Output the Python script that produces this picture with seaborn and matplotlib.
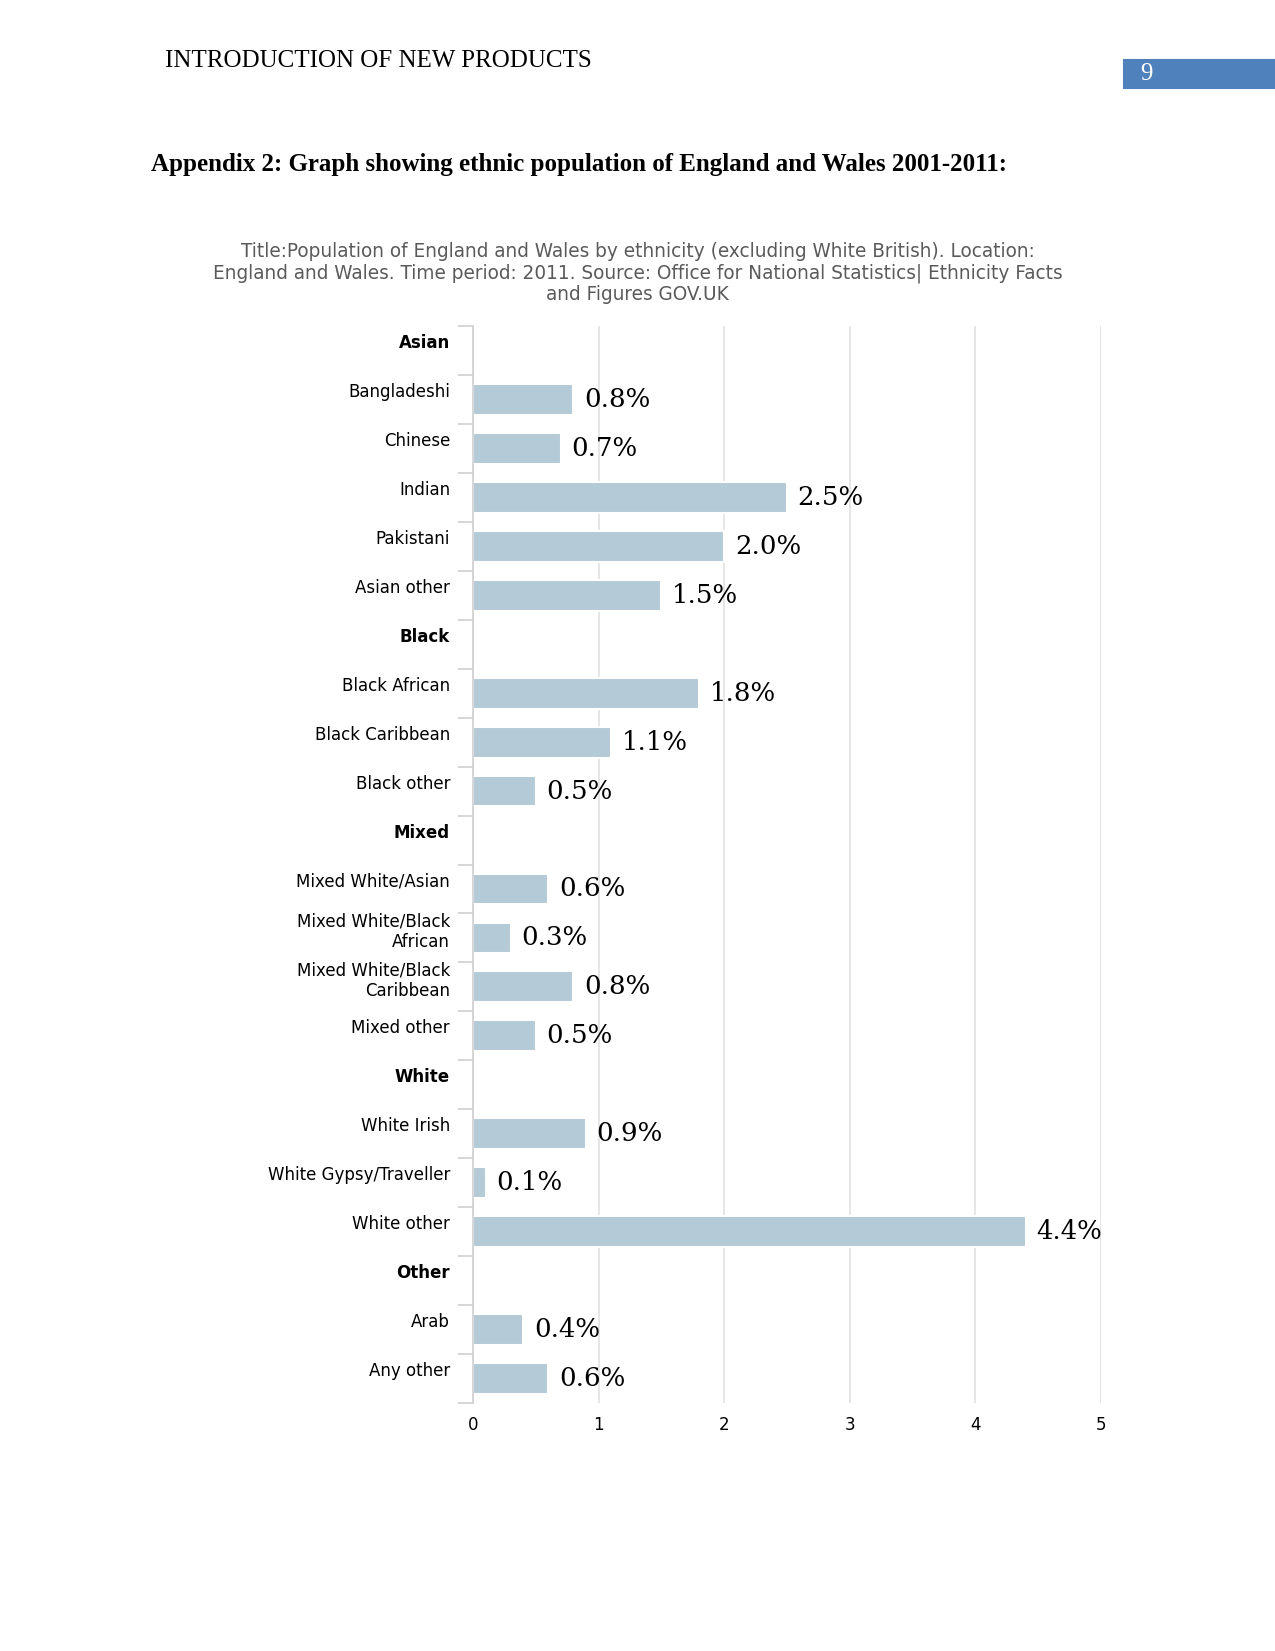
import numpy as np
import pandas as pd
import matplotlib
matplotlib.use("Agg")
import matplotlib.pyplot as plt
import matplotlib.transforms as mtransforms
from matplotlib.patches import Rectangle
import seaborn as sns

# data (percent of population, 2011)
categories = [
    "Asian", "Bangladeshi", "Chinese", "Indian", "Pakistani", "Asian other",
    "Black", "Black African", "Black Caribbean", "Black other",
    "Mixed", "Mixed White/Asian", "Mixed White/Black\nAfrican",
    "Mixed White/Black\nCaribbean", "Mixed other",
    "White", "White Irish", "White Gypsy/Traveller", "White other",
    "Other", "Arab", "Any other",
]
values = [
    np.nan, 0.8, 0.7, 2.5, 2.0, 1.5,
    np.nan, 1.8, 1.1, 0.5,
    np.nan, 0.6, 0.3, 0.8, 0.5,
    np.nan, 0.9, 0.1, 4.4,
    np.nan, 0.4, 0.6,
]
group_headers = ["Asian", "Black", "Mixed", "White", "Other"]
x_ticks = [0, 1, 2, 3, 4, 5]

chart_title = ("Title:Population of England and Wales by ethnicity (excluding White British). Location:\n"
               "England and Wales. Time period: 2011. Source: Office for National Statistics| Ethnicity Facts\n"
               "and Figures GOV.UK")

sns.set_style("white")
plt.rcParams["font.family"] = ["DejaVu Sans"]
plt.rcParams.update({
    "text.color": "black",
    "xtick.color": "black",
    "ytick.color": "black",
})

W, H = 1275, 1651
fig = plt.figure(figsize=(W / 150, H / 150), dpi=150)

# page header
fig.text(165 / W, 1 - 61 / H, "INTRODUCTION OF NEW PRODUCTS", family="Liberation Serif",
         fontsize=12, va="center", ha="left")
fig.patches.append(Rectangle((1124 / W, 1 - 88 / H), (W - 1124) / W, 28 / H,
                             transform=fig.transFigure, color="#4F81BD", zorder=0))
fig.text(1146 / W, 1 - 74 / H, "9", family="Liberation Serif", fontsize=12,
         va="center", ha="center", color="white")
fig.text(151 / W, 1 - 165 / H,
         "Appendix 2: Graph showing ethnic population of England and Wales 2001-2011:",
         family="Liberation Serif", fontweight="bold", fontsize=12, va="center", ha="left")

fig.text(0.5, 1 - 273 / H, chart_title, ha="center", va="center", fontsize=8.9,
         color="#5a5a5a", linespacing=1.15)

left, right, top, bottom = 473, 1101, 326, 1403
ax = fig.add_axes([left / W, 1 - bottom / H, (right - left) / W, (bottom - top) / H])

df = pd.DataFrame({"group": categories, "value": values})
sns.barplot(data=df, x="value", y="group", order=categories, color="#b4cad7",
            saturation=1, width=0.63, errorbar=None, ax=ax)

for i, v in enumerate(values):
    if not np.isnan(v):
        ax.text(v + 0.085, i, f"{v:.1f}%", va="center", ha="left",
                family="DejaVu Serif", fontsize=12.5, color="black")

ax.set_xlim(0, 5)
ax.set_ylim(len(categories) - 0.5, -0.5)
ax.set_xticks(x_ticks)
ax.set_xticklabels([str(t) for t in x_ticks])
ax.set_xlabel("")
ax.set_ylabel("")
ax.xaxis.grid(True, color="#e2e2e2", lw=0.8)
ax.set_axisbelow(True)

ax.set_yticks(range(len(categories)))
ax.set_yticklabels(categories)
ax.set_yticks(np.arange(-0.5, len(categories), 1), minor=True)
ax.tick_params(axis="y", which="major", left=False, length=0, pad=11, labelsize=8)
ax.tick_params(axis="y", which="minor", left=True, length=7.2, width=0.8, color="#d0d0d0")
ax.tick_params(axis="x", length=0, pad=6, labelsize=8)

shift = mtransforms.ScaledTranslation(0, 9.5 / 150, fig.dpi_scale_trans)
for lab in ax.get_yticklabels():
    lab.set_transform(lab.get_transform() + shift)
    lab.set_multialignment("right")
    if lab.get_text() in group_headers:
        lab.set_fontweight("bold")

for side in ["top", "right", "bottom"]:
    ax.spines[side].set_visible(False)
ax.spines["left"].set_color("#d0d0d0")
ax.spines["left"].set_linewidth(0.8)

fig.savefig("out.png", dpi=150)
